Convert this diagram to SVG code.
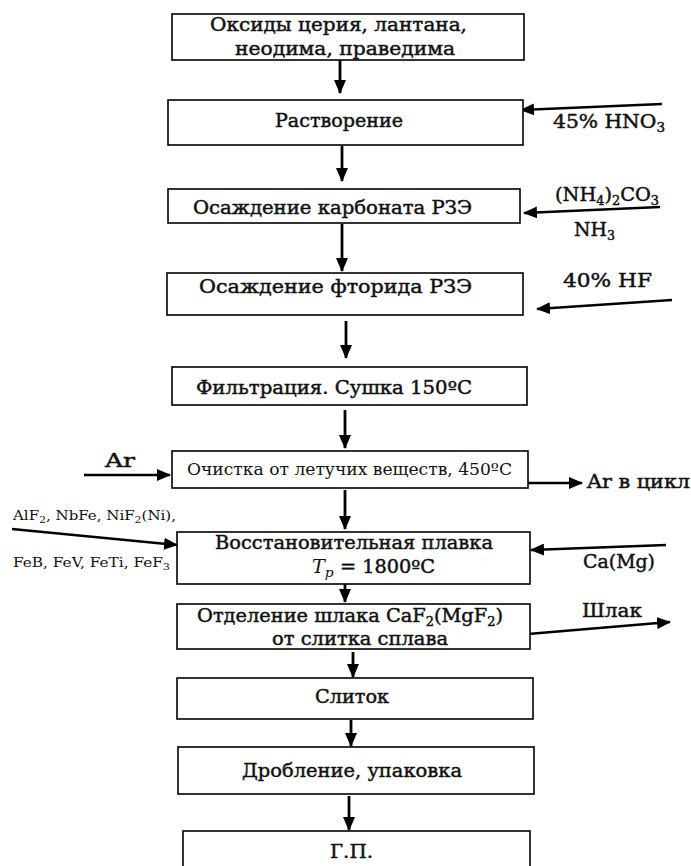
<svg xmlns="http://www.w3.org/2000/svg" width="691" height="866" viewBox="0 0 691 866">
<style>
.box{fill:#fff;stroke:#000;stroke-width:1.6}
.t{font-family:"DejaVu Serif",serif;font-size:18px;fill:#111;stroke:#111;stroke-width:0.45}
.r{font-family:"DejaVu Serif",serif;font-size:16px;fill:#111}
.sm{font-family:"DejaVu Serif",serif;font-size:13px;fill:#111}
.c{stroke:#000;stroke-width:2.4;fill:none}
.cv{stroke:#000;stroke-width:2.8;fill:none}
</style>
<defs>
<marker id="ah" markerUnits="userSpaceOnUse" markerWidth="14" markerHeight="12" viewBox="0 0 14 12" refX="13" refY="6" orient="auto">
<path d="M0,0 L14,6 L0,12 Z" fill="#000"/>
</marker>
</defs>
<rect width="691" height="866" fill="#fff"/>
<g id="connectors">
<line class="cv" x1="340" y1="55" x2="340" y2="93" marker-end="url(#ah)"/>
<line class="cv" x1="342" y1="146" x2="342" y2="181" marker-end="url(#ah)"/>
<line class="cv" x1="342" y1="224" x2="342" y2="271" marker-end="url(#ah)"/>
<line class="cv" x1="346" y1="321" x2="346" y2="358" marker-end="url(#ah)"/>
<line class="cv" x1="345" y1="410" x2="345" y2="448" marker-end="url(#ah)"/>
<line class="cv" x1="345" y1="490" x2="345" y2="529" marker-end="url(#ah)"/>
<line class="cv" x1="345" y1="584" x2="345" y2="602" marker-end="url(#ah)"/>
<line class="cv" x1="353" y1="652" x2="353" y2="677" marker-end="url(#ah)"/>
<line class="cv" x1="351" y1="720" x2="351" y2="746" marker-end="url(#ah)"/>
<line class="cv" x1="349" y1="796" x2="349" y2="830" marker-end="url(#ah)"/>
<line class="c" x1="662" y1="104" x2="521" y2="110" marker-end="url(#ah)"/>
<line class="c" x1="660" y1="207" x2="524" y2="213" marker-end="url(#ah)"/>
<line class="c" x1="672" y1="300" x2="537" y2="309" marker-end="url(#ah)"/>
<line class="c" x1="84" y1="475" x2="170" y2="475" marker-end="url(#ah)"/>
<line class="c" x1="528" y1="483" x2="582" y2="483" marker-end="url(#ah)"/>
<line class="c" x1="12" y1="529" x2="177" y2="545" marker-end="url(#ah)"/>
<line class="c" x1="666" y1="545" x2="531" y2="550" marker-end="url(#ah)"/>
<line class="c" x1="528" y1="634" x2="670" y2="622" marker-end="url(#ah)"/>
</g>
<g id="n1"><rect class="box" x="172" y="14" width="352" height="46"/>
<text class="t" x="210" y="31" textLength="257" lengthAdjust="spacingAndGlyphs">Оксиды церия, лантана,</text>
<text class="t" x="235" y="55" textLength="220" lengthAdjust="spacingAndGlyphs">неодима, праведима</text></g>
<g id="n2"><rect class="box" x="168" y="100" width="355" height="45"/>
<text class="t" x="275" y="127" textLength="128" lengthAdjust="spacingAndGlyphs">Растворение</text></g>
<g id="n3"><rect class="box" x="168" y="189" width="352" height="34"/>
<text class="t" x="193" y="214" textLength="279" lengthAdjust="spacingAndGlyphs">Осаждение карбоната РЗЭ</text></g>
<g id="n4"><rect class="box" x="167" y="273" width="356" height="42"/>
<text class="t" x="199" y="293" textLength="273" lengthAdjust="spacingAndGlyphs">Осаждение фторида РЗЭ</text></g>
<g id="n5"><rect class="box" x="172" y="367" width="355" height="38"/>
<text class="t" x="196" y="394" textLength="276" lengthAdjust="spacingAndGlyphs">Фильтрация. Сушка 150ºC</text></g>
<g id="n6"><rect class="box" x="172" y="451" width="356" height="37"/>
<text class="r" x="187" y="475" textLength="325" lengthAdjust="spacingAndGlyphs">Очистка от летучих веществ, 450ºC</text></g>
<g id="n7"><rect class="box" x="177" y="532" width="353" height="52"/>
<text class="t" x="215" y="549" textLength="278" lengthAdjust="spacingAndGlyphs">Восстановительная плавка</text>
<text class="t" x="312" y="573" textLength="123" lengthAdjust="spacingAndGlyphs"><tspan font-style="italic" stroke-width="0">T</tspan><tspan font-style="italic" stroke-width="0" font-size="13" dy="4">p</tspan><tspan dy="-4"> = 1800ºC</tspan></text></g>
<g id="n8"><rect class="box" x="177" y="604" width="353" height="45"/>
<text class="t" x="197" y="622" textLength="306" lengthAdjust="spacingAndGlyphs">Отделение шлака CaF<tspan font-size="12" dy="4">2</tspan><tspan dy="-4">(MgF</tspan><tspan font-size="12" dy="4">2</tspan><tspan dy="-4">)</tspan></text>
<text class="t" x="272" y="645" textLength="176" lengthAdjust="spacingAndGlyphs">от слитка сплава</text></g>
<g id="n9"><rect class="box" x="177" y="678" width="356" height="41"/>
<text class="t" x="315" y="703" textLength="74" lengthAdjust="spacingAndGlyphs">Слиток</text></g>
<g id="n10"><rect class="box" x="178" y="747" width="356" height="47"/>
<text class="t" x="242" y="777" textLength="220" lengthAdjust="spacingAndGlyphs">Дробление, упаковка</text></g>
<g id="n11"><rect class="box" x="183" y="831" width="347" height="40"/>
<text class="t" x="330" y="858" textLength="43" lengthAdjust="spacingAndGlyphs">Г.П.</text></g>
<g id="labels">
<text class="t" x="553" y="128" textLength="112" lengthAdjust="spacingAndGlyphs">45% HNO<tspan font-size="12" dy="4">3</tspan></text>
<text class="t" x="555" y="201" textLength="104" lengthAdjust="spacingAndGlyphs">(NH<tspan font-size="12" dy="4">4</tspan><tspan dy="-4">)</tspan><tspan font-size="12" dy="4">2</tspan><tspan dy="-4">CO</tspan><tspan font-size="12" dy="4">3</tspan></text>
<text class="t" x="574" y="236" textLength="41" lengthAdjust="spacingAndGlyphs">NH<tspan font-size="12" dy="4">3</tspan></text>
<text class="t" x="563" y="287" textLength="89" lengthAdjust="spacingAndGlyphs">40% HF</text>
<text class="t" x="105" y="467" textLength="30" lengthAdjust="spacingAndGlyphs">Ar</text>
<text class="t" x="587" y="488" textLength="103" lengthAdjust="spacingAndGlyphs">Ar в цикл</text>
<text class="sm" x="13" y="520" textLength="163" lengthAdjust="spacingAndGlyphs">AlF<tspan font-size="9.5" dy="3">2</tspan><tspan dy="-3">, NbFe, NiF</tspan><tspan font-size="9.5" dy="3">2</tspan><tspan dy="-3">(Ni),</tspan></text>
<text class="sm" x="13" y="567" textLength="157" lengthAdjust="spacingAndGlyphs">FeB, FeV, FeTi, FeF<tspan font-size="9.5" dy="3">3</tspan></text>
<text class="t" x="583" y="568" textLength="72" lengthAdjust="spacingAndGlyphs">Ca(Mg)</text>
<text class="t" x="582" y="617" textLength="60" lengthAdjust="spacingAndGlyphs">Шлак</text>
</g>
</svg>
